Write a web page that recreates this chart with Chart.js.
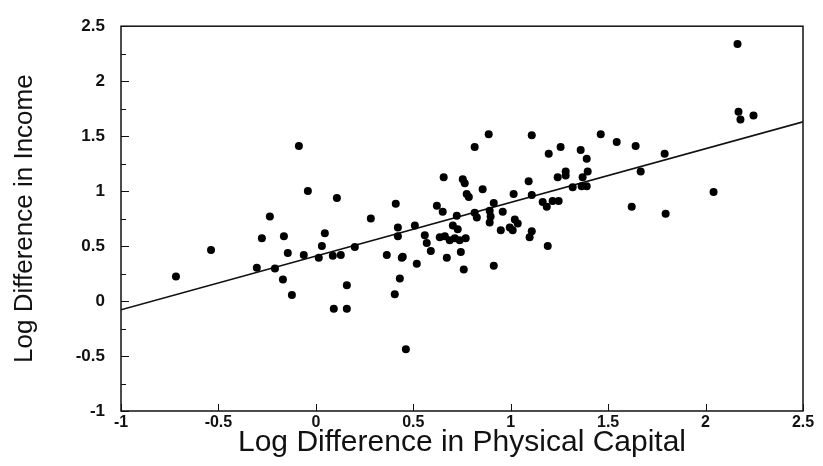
<!DOCTYPE html>
<html>
<head>
<meta charset="utf-8">
<script src="https://cdn.jsdelivr.net/npm/chart.js@4.4.0/dist/chart.umd.min.js"></script>
<style>
  html, body { margin: 0; padding: 0; background: #ffffff; }
  #wrap { width: 823px; height: 466px; }
</style>
</head>
<body>
<div id="wrap"><canvas id="c" width="823" height="466"></canvas></div>
<script>
// Data
const capitalX = [
  -0.718, -0.538, -0.236, -0.277, -0.303, -0.210, -0.164, -0.144, -0.169, -0.123,
  -0.087, -0.041, 0.108, -0.062, 0.031, 0.015, 0.046, 0.087, 0.128, 0.159,
  0.092, 0.159, 0.282, 0.200, 0.364, 0.441, 0.518, 0.431, 0.405, 0.462,
  0.410, 0.421, 0.421, 0.508, 0.446, 0.559, 0.569, 0.590, 0.621, 0.651,
  0.656, 0.754, 0.764, 0.774, 0.785, 0.856, 0.815, 0.887, 0.723, 0.703,
  0.728, 0.636, 0.662, 0.687, 0.713, 0.738, 0.769, 0.672, 0.744, 0.759,
  0.815, 0.826, 0.913, 0.892, 0.897, 0.892, 0.959, 1.021, 1.036, 0.995,
  1.010, 0.949, 1.108, 1.097, 1.190, 0.913, 1.015, 1.108, 1.092, 1.108,
  1.195, 1.256, 1.241, 1.282, 1.282, 1.164, 1.185, 1.215, 1.246, 1.359,
  1.390, 1.369, 1.395, 1.318, 1.364, 1.390, 1.462, 1.544, 1.641, 1.790,
  1.667, 2.041, 1.621, 1.795, 2.164, 2.169, 2.179, 2.246
];
const incomeY = [
  0.223, 0.464, 0.768, 0.571, 0.304, 0.295, 0.589, 0.438, 0.196, 0.054,
  1.411, 1.000, 0.938, 0.420, 0.500, 0.393, 0.616, 0.411, 0.420, 0.143,
  -0.071, -0.071, 0.750, 0.491, 0.420, 0.393, 0.339, 0.205, 0.063, -0.438,
  0.884, 0.670, 0.589, 0.688, 0.402, 0.598, 0.527, 0.455, 0.866, 0.813,
  1.125, 1.107, 1.071, 0.973, 0.946, 1.018, 1.402, 1.518, 0.777, 0.688,
  0.652, 0.580, 0.589, 0.554, 0.571, 0.554, 0.571, 0.393, 0.446, 0.286,
  0.804, 0.759, 0.893, 0.821, 0.768, 0.714, 0.813, 0.741, 0.705, 0.670,
  0.643, 0.643, 0.634, 0.580, 0.500, 0.321, 0.973, 0.964, 1.089, 1.509,
  1.339, 1.402, 1.125, 1.179, 1.143, 0.902, 0.857, 0.911, 0.911, 1.375,
  1.295, 1.125, 1.179, 1.036, 1.045, 1.045, 1.518, 1.446, 1.411, 1.339,
  1.179, 0.991, 0.857, 0.795, 2.339, 1.723, 1.652, 1.688
];
const fitX = [-1, 2.5];
const fitY = [-0.08, 1.63];
const xTicks = [-1, -0.5, 0, 0.5, 1, 1.5, 2, 2.5];
const yTicks = [-1, -0.5, 0, 0.5, 1, 1.5, 2, 2.5];
const yMinorTicks = [-0.75, -0.25, 0.25, 0.75, 1.25, 1.75, 2.25];

const points = capitalX.map((x, i) => ({ x: x, y: incomeY[i] }));
const fitLine = fitX.map((x, i) => ({ x: x, y: fitY[i] }));

const frameAndTicks = {
  id: 'frameAndTicks',
  afterDraw(chart) {
    const { ctx, chartArea: a, scales: { x, y } } = chart;
    ctx.save();
    ctx.strokeStyle = '#111';
    ctx.lineWidth = 1.5;
    ctx.strokeRect(a.left, a.top, a.right - a.left, a.bottom - a.top);
    ctx.lineWidth = 1;
    ctx.beginPath();
    yTicks.forEach(v => {
      const py = Math.round(y.getPixelForValue(v)) + 0.5;
      ctx.moveTo(a.left, py); ctx.lineTo(a.left + 8, py);
    });
    yMinorTicks.forEach(v => {
      const py = Math.round(y.getPixelForValue(v)) + 0.5;
      ctx.moveTo(a.left, py); ctx.lineTo(a.left + 5, py);
    });
    xTicks.forEach(v => {
      const px = Math.round(x.getPixelForValue(v)) + 0.5;
      ctx.moveTo(px, a.bottom); ctx.lineTo(px, a.bottom - 7);
    });
    ctx.stroke();
    ctx.restore();
  }
};

const fmt = v => String(v);

new Chart(document.getElementById('c'), {
  type: 'scatter',
  data: {
    datasets: [
      {
        type: 'scatter',
        data: points,
        backgroundColor: '#000',
        borderColor: '#000',
        pointRadius: 4,
        pointHoverRadius: 4,
        borderWidth: 0
      },
      {
        type: 'line',
        data: fitLine,
        borderColor: '#111',
        borderWidth: 1.6,
        pointRadius: 0,
        fill: false,
        tension: 0
      }
    ]
  },
  options: {
    responsive: false,
    animation: false,
    devicePixelRatio: 1,
    layout: { padding: { top: 19, right: 20, left: 0, bottom: 0 } },
    plugins: { legend: { display: false }, tooltip: { enabled: false } },
    scales: {
      x: {
        type: 'linear',
        min: -1, max: 2.5,
        afterFit(s) { s.height = 55; },
        afterBuildTicks(s) { s.ticks = xTicks.map(v => ({ value: v })); },
        grid: { display: false, drawTicks: false },
        border: { display: false },
        ticks: {
          autoSkip: false, maxRotation: 0, padding: 2, color: '#111',
          callback: fmt,
          font: { family: 'Liberation Sans, Arial, sans-serif', size: 16, weight: 'bold' }
        },
        title: {
          display: true, text: 'Log Difference in Physical Capital', color: '#111',
          font: { family: 'Liberation Sans, Arial, sans-serif', size: 30 },
          padding: { top: 0, bottom: 5 }
        }
      },
      y: {
        type: 'linear',
        min: -1, max: 2.5,
        afterFit(s) { s.width = 121; },
        afterBuildTicks(s) { s.ticks = yTicks.map(v => ({ value: v })); },
        grid: { display: false, drawTicks: false },
        border: { display: false },
        ticks: {
          autoSkip: false, padding: 16, color: '#111',
          callback: fmt,
          font: { family: 'Liberation Sans, Arial, sans-serif', size: 17, weight: 'bold' }
        },
        title: {
          display: true, text: 'Log Difference in Income', color: '#111',
          font: { family: 'Liberation Sans, Arial, sans-serif', size: 26 },
          padding: { top: 9, bottom: 0 }
        }
      }
    }
  },
  plugins: [frameAndTicks]
});
</script>
</body>
</html>
